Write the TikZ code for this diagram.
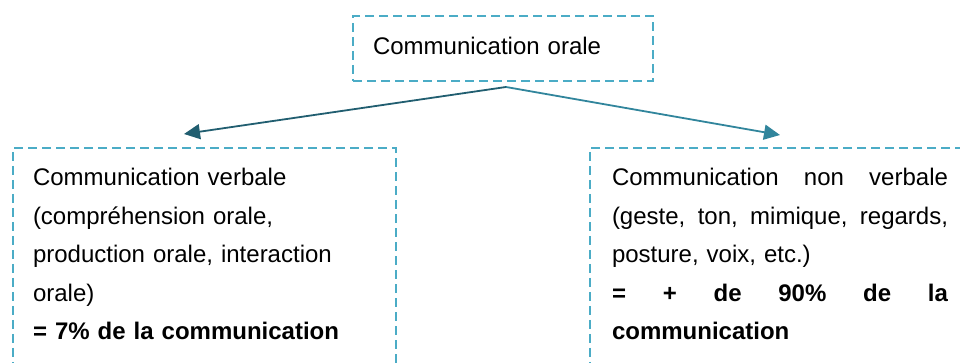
\documentclass[tikz,border=0pt]{standalone}
\usepackage{fontspec}
\setmainfont{Liberation Sans}
\usetikzlibrary{arrows.meta,calc}
\definecolor{boxblue}{HTML}{4BACC6}
\definecolor{arrowdark}{HTML}{215E70}
\definecolor{arrowmid}{HTML}{31859C}
% a line of fixed width whose words are spread apart
\newcommand{\spreadline}[1]{\makebox[168pt][l]{#1}}
\begin{document}
\begin{tikzpicture}[x=0.5pt,y=-0.5pt,
  dashbox/.style={draw=boxblue, line width=1.2pt, dash pattern=on 4.5pt off 2.5pt,
    outer sep=0pt, inner sep=0pt},
  txt/.style={inner sep=0pt, outer sep=0pt, anchor=base west,
    font=\fontsize{12}{19.25}\selectfont, text width=#1, align=left},
  link/.style={line width=0.9pt, -{Triangle[length=8pt,width=7.5pt]}}]
\useasboundingbox (0,0) rectangle (960,363);
\clip (0,0) rectangle (960,363);

% dashed frames (the two lower ones run past the page edge)
\node[dashbox, minimum width=150pt, minimum height=32.5pt] (root) at (503,48.5) {};
\node[dashbox, minimum width=191.5pt, minimum height=126pt] (verbal) at (204.5,274) {};
\node[dashbox, minimum width=195pt, minimum height=126pt] (nonverbal) at (785,274) {};

% texts
\node[txt=200pt] (rootlbl) at (373,55) {Communication orale};
\node[txt=190pt] (verballbl) at (33,186) {Communication verbale\\
  (compréhension orale,\\
  production orale, interaction\\
  orale)\\
  \textbf{= 7\% de la communication}};
\node[txt=168pt] (nonverballbl) at (612,186) {%
  \spreadline{Communication\hfill non\hfill verbale}\\
  \spreadline{(geste,\hfill ton,\hfill mimique,\hfill regards,}\\
  posture, voix, etc.)\\
  \spreadline{\bfseries =\hfill +\hfill de\hfill 90\%\hfill de\hfill la}\\
  \textbf{communication}};

% connectors
\coordinate (fork) at ($(root.south)+(3,6)$);
\coordinate (verbaltip) at (184,134);
\coordinate (nonverbaltip) at (780,135);
\draw[link, color=arrowdark] (fork) -- (verbaltip);
\draw[link, color=arrowmid] (fork) -- (nonverbaltip);
\end{tikzpicture}
\end{document}
